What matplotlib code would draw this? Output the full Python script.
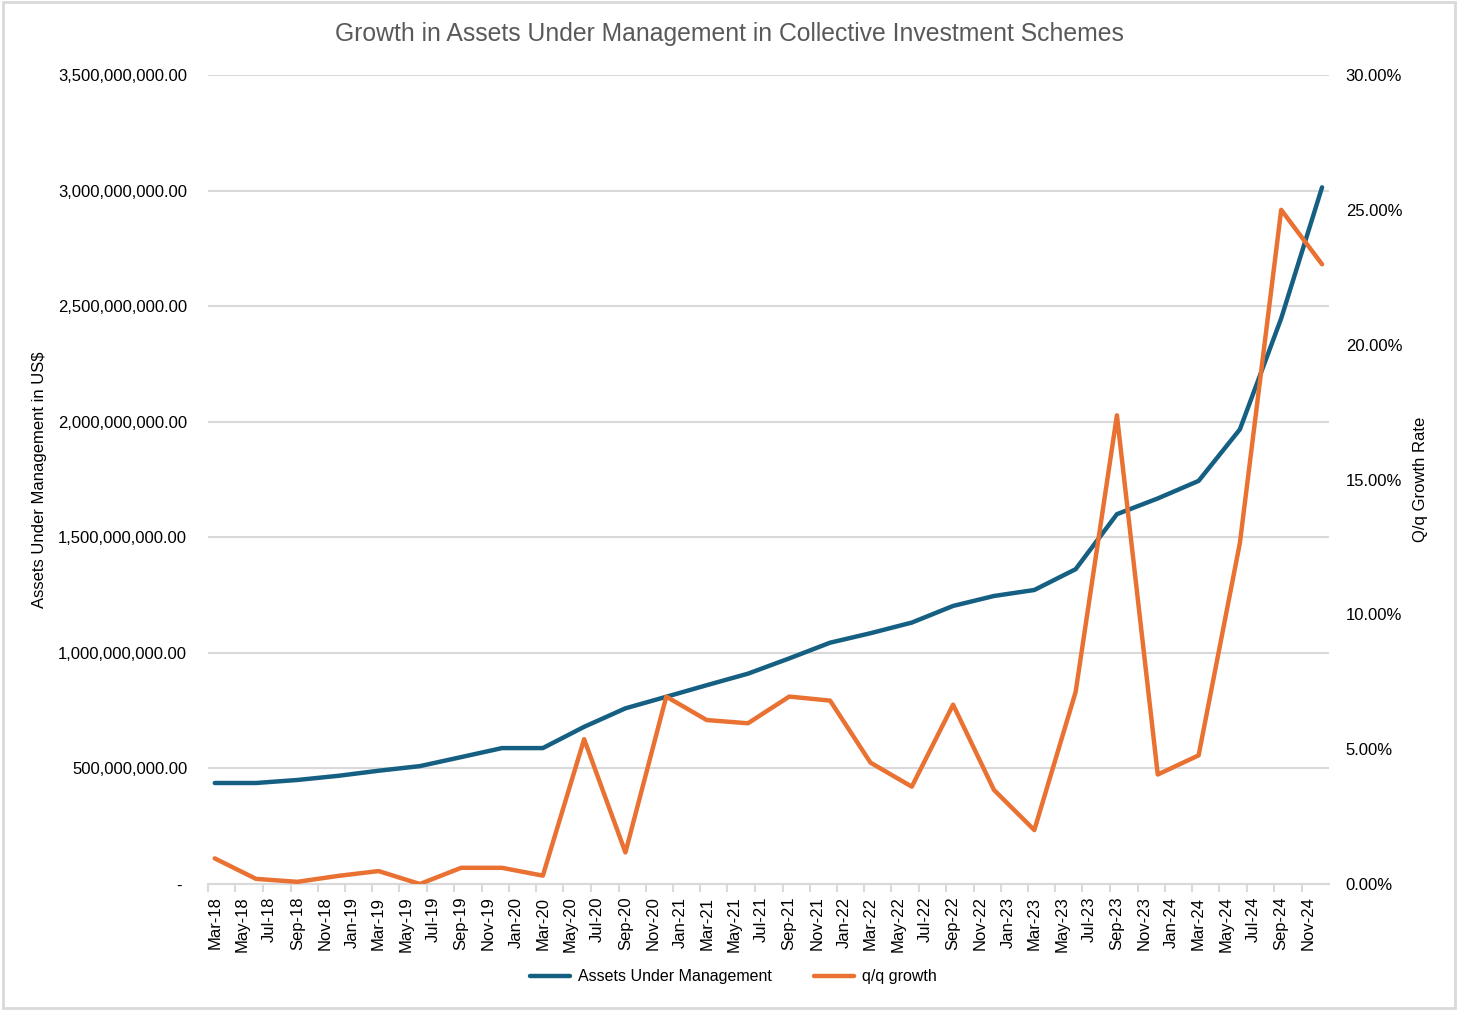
import pandas as pd
import matplotlib
matplotlib.use("Agg")
import matplotlib.pyplot as plt
import matplotlib.dates as mdates
from matplotlib.ticker import FuncFormatter, MultipleLocator, NullFormatter
from matplotlib.patches import Rectangle

plt.rcParams['font.family'] = ['Liberation Sans', 'DejaVu Sans']

# quarter-end months
quarters = ["2018-03", "2018-06", "2018-09", "2018-12",
            "2019-03", "2019-06", "2019-09", "2019-12",
            "2020-03", "2020-06", "2020-09", "2020-12",
            "2021-03", "2021-06", "2021-09", "2021-12",
            "2022-03", "2022-06", "2022-09", "2022-12",
            "2023-03", "2023-06", "2023-09", "2023-12",
            "2024-03", "2024-06", "2024-09", "2024-12"]

# assets under management, US$
aum = [437e6, 437e6, 450e6, 468e6,
       490e6, 510e6, 549e6, 588e6,
       588e6, 680e6, 760e6, 810e6,
       860e6, 910e6, 976e6, 1044e6,
       1085e6, 1131e6, 1203e6, 1246e6,
       1272e6, 1362e6, 1600e6, 1668e6,
       1744e6, 1967e6, 2447e6, 3014e6]

# quarter on quarter growth, %
qq_growth = [0.95, 0.19, 0.08, 0.30,
             0.48, 0.00, 0.60, 0.60,
             0.31, 5.37, 1.17, 6.95,
             6.08, 5.96, 6.95, 6.80,
             4.50, 3.61, 6.65, 3.49,
             2.00, 7.12, 17.38, 4.06,
             4.77, 12.65, 25.00, 22.98]

# Excel puts each point in the middle of its month
x = pd.to_datetime(quarters) + pd.Timedelta(days=15)

blue = "#156082"
orange = "#E97132"
grid_c = "#d9d9d9"

fig = plt.figure(figsize=(14.58, 10.10), dpi=100)
ax = fig.add_axes([208 / 1458, 1 - 884 / 1010, (1329 - 208) / 1458, (884 - 75) / 1010])
ax2 = ax.twinx()

l1, = ax.plot(x, aum, color=blue, lw=3.2, solid_capstyle='round', solid_joinstyle='round',
              label="Assets Under Management", zorder=3)
l2, = ax2.plot(x, qq_growth, color=orange, lw=3.2, solid_capstyle='round', solid_joinstyle='round',
               label="q/q growth", zorder=3)

ax.set_xlim(pd.Timestamp("2018-03-01"), pd.Timestamp("2024-12-31 12:00"))
ax.set_ylim(0, 3.5e9)
ax2.set_ylim(0, 30)

ax.yaxis.set_major_locator(MultipleLocator(5e8))
ax.yaxis.set_major_formatter(FuncFormatter(lambda v, p: "- " if v == 0 else f"{v:,.2f}"))
ax2.yaxis.set_major_locator(MultipleLocator(5))
ax2.yaxis.set_major_formatter(FuncFormatter(lambda v, p: f"{v:.2f}%"))

# tick marks on month boundaries, labels in the middle of the month
ax.xaxis.set_major_locator(mdates.MonthLocator(bymonth=[1, 3, 5, 7, 9, 11]))
ax.xaxis.set_major_formatter(NullFormatter())
ax.xaxis.set_minor_locator(mdates.MonthLocator(bymonth=[1, 3, 5, 7, 9, 11], bymonthday=16))
ax.xaxis.set_minor_formatter(mdates.DateFormatter("%b-%y"))

ax.grid(axis='y', color=grid_c, lw=1.5)
ax.set_axisbelow(True)
for a in (ax, ax2):
    for s in ("top", "left", "right"):
        a.spines[s].set_visible(False)
    a.spines["bottom"].set_color(grid_c)
    a.spines["bottom"].set_linewidth(1.5)
ax2.spines["bottom"].set_visible(False)

ax.tick_params(axis='x', which='major', length=6, width=1.5, color=grid_c)
ax.tick_params(axis='x', which='minor', length=0, labelsize=12, pad=9, labelrotation=90)
ax.tick_params(axis='y', length=0, labelsize=12, pad=15)
ax2.tick_params(axis='y', length=0, labelsize=12, pad=12)

ax.set_ylabel("Assets Under Management in US$", fontsize=12, labelpad=8)
ax2.set_ylabel("Q/q Growth Rate", fontsize=12, labelpad=8)

fig.suptitle("Growth in Assets Under Management in Collective Investment Schemes",
             x=0.5, y=1 - 34 / 1010, va='center', fontsize=17.8, color="#595959")

fig.legend(handles=[l1, l2], loc='center', bbox_to_anchor=(0.503, 1 - 977 / 1010),
           ncol=2, frameon=False, fontsize=11.5, handlelength=2.5, columnspacing=2.6,
           handletextpad=0.5)

# chart area border
fig.patches.append(Rectangle((0.002, 0.002), 0.996, 0.996, transform=fig.transFigure,
                             fill=False, edgecolor=grid_c, lw=2))

fig.savefig("out.png", dpi=100)
